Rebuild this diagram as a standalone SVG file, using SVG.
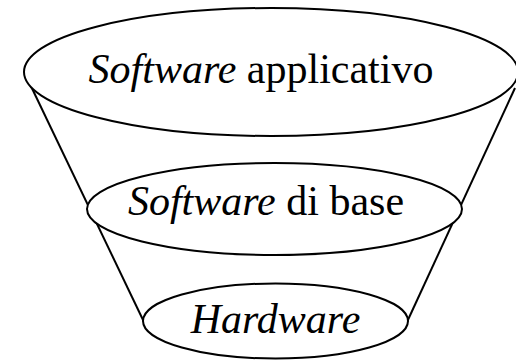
<svg xmlns="http://www.w3.org/2000/svg" width="516" height="360" viewBox="0 0 516 360">
  <style>
    .shape { fill: #ffffff; stroke: #000000; stroke-width: 2; }
    .edge { fill: none; stroke: #000000; stroke-width: 2; }
    .label { font-size: 42px; fill: #000000; text-anchor: middle; }
    .em { font-style: italic; }
  </style>
  <rect width="516" height="360" fill="#ffffff"/>
  <!-- funnel sides -->
  <g id="connectors">
    <line class="edge" x1="28" y1="80" x2="144" y2="322"/>
    <line class="edge" x1="515" y1="88" x2="407" y2="322"/>
  </g>
  <g id="hardware">
    <ellipse class="shape" cx="275.5" cy="321" rx="132.5" ry="37.5"/>
    <text class="label" font-family="'Liberation Serif', serif" x="275.5" y="333"><tspan class="em">Hardware</tspan></text>
  </g>
  <g id="software-base">
    <ellipse class="shape" cx="274.5" cy="209" rx="187.5" ry="46"/>
    <text class="label" font-family="'Liberation Serif', serif" x="266" y="215"><tspan class="em">Software</tspan> di base</text>
  </g>
  <g id="software-app">
    <ellipse class="shape" cx="271" cy="72" rx="247" ry="64"/>
    <text class="label" font-family="'Liberation Serif', serif" x="261" y="83"><tspan class="em">Software</tspan> applicativo</text>
  </g>
</svg>
